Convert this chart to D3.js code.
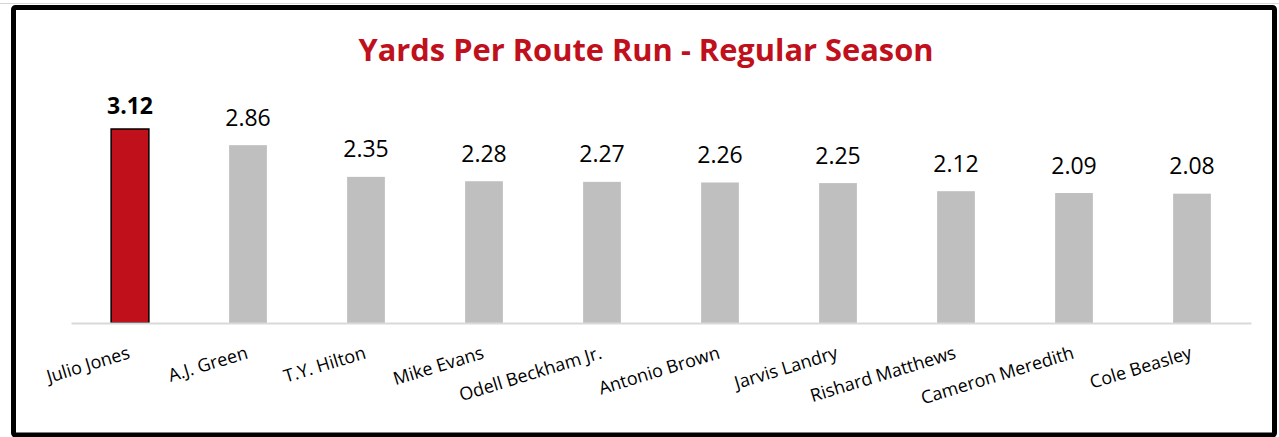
<!DOCTYPE html>
<html>
<head>
<meta charset="utf-8">
<script src="https://cdn.jsdelivr.net/npm/d3@7/dist/d3.min.js"></script>
<style>
  html, body { margin: 0; padding: 0; background: #fff; }
  svg { display: block; }
</style>
</head>
<body>
<svg id="chart" width="1279" height="437"></svg>
<script>
const title = "Yards Per Route Run - Regular Season";
const players = ["Julio Jones", "A.J. Green", "T.Y. Hilton", "Mike Evans", "Odell Beckham Jr.",
                 "Antonio Brown", "Jarvis Landry", "Rishard Matthews", "Cameron Meredith", "Cole Beasley"];
const yprr = [3.12, 2.86, 2.35, 2.28, 2.27, 2.26, 2.25, 2.12, 2.09, 2.08];
const highlighted = ["Julio Jones"];

const svg = d3.select("#chart");
const W = 1279, H = 437;
const red = "#c0101c";

// faint outer line and frame
svg.append("line").attr("x1", 0).attr("x2", W).attr("y1", 3.5).attr("y2", 3.5)
  .attr("stroke", "#d6d6d6").attr("stroke-width", 1);
svg.append("rect").attr("x", 13.5).attr("y", 7.5).attr("width", 1261).attr("height", 427.5)
  .attr("fill", "#fff").attr("stroke", "#000").attr("stroke-width", 5).attr("rx", 2);

const x = d3.scaleBand().domain(players).range([71, 1251]).paddingInner(0.68).paddingOuter(0.34);
const y = d3.scaleLinear().domain([0, 3.12]).range([323, 129]);

// title
svg.append("text")
  .attr("x", 646).attr("y", 61)
  .attr("text-anchor", "middle")
  .attr("font-family", "'Open Sans', sans-serif")
  .attr("font-weight", "bold")
  .attr("font-size", 31)
  .attr("fill", red)
  .attr("textLength", 575)
  .attr("lengthAdjust", "spacingAndGlyphs")
  .text(title);

// bars
svg.append("g").selectAll("rect").data(players).join("rect")
  .attr("x", d => x(d))
  .attr("width", x.bandwidth())
  .attr("y", (d, i) => y(yprr[i]))
  .attr("height", (d, i) => y(0) - y(yprr[i]))
  .attr("fill", d => highlighted.includes(d) ? red : "#bfbfbf")
  .attr("stroke", d => highlighted.includes(d) ? "#000" : "none")
  .attr("stroke-width", 1.5);

// axis
const axis = d3.axisBottom(x).tickSize(0).tickPadding(0);
const gAxis = svg.append("g").attr("transform", `translate(0,${y(0)})`).call(axis);
gAxis.select(".domain").attr("stroke", "#d9d9d9").attr("stroke-width", 2);
gAxis.selectAll(".tick text")
  .attr("font-family", "'Open Sans', sans-serif")
  .attr("font-size", 18)
  .attr("fill", "#000")
  .attr("text-anchor", "end")
  .attr("y", 0).attr("dy", 0)
  .attr("transform", "translate(1,35) rotate(-17)");

// value labels
svg.append("g").selectAll("text").data(players).join("text")
  .attr("x", d => x(d) + x.bandwidth() / 2)
  .attr("y", (d, i) => y(yprr[i]) - (highlighted.includes(d) ? 15 : 19.5))
  .attr("text-anchor", "middle")
  .attr("font-family", "'Open Sans', sans-serif")
  .attr("font-size", 23)
  .attr("font-weight", d => highlighted.includes(d) ? "bold" : "normal")
  .attr("fill", "#000")
  .text((d, i) => yprr[i].toFixed(2));
</script>
</body>
</html>
